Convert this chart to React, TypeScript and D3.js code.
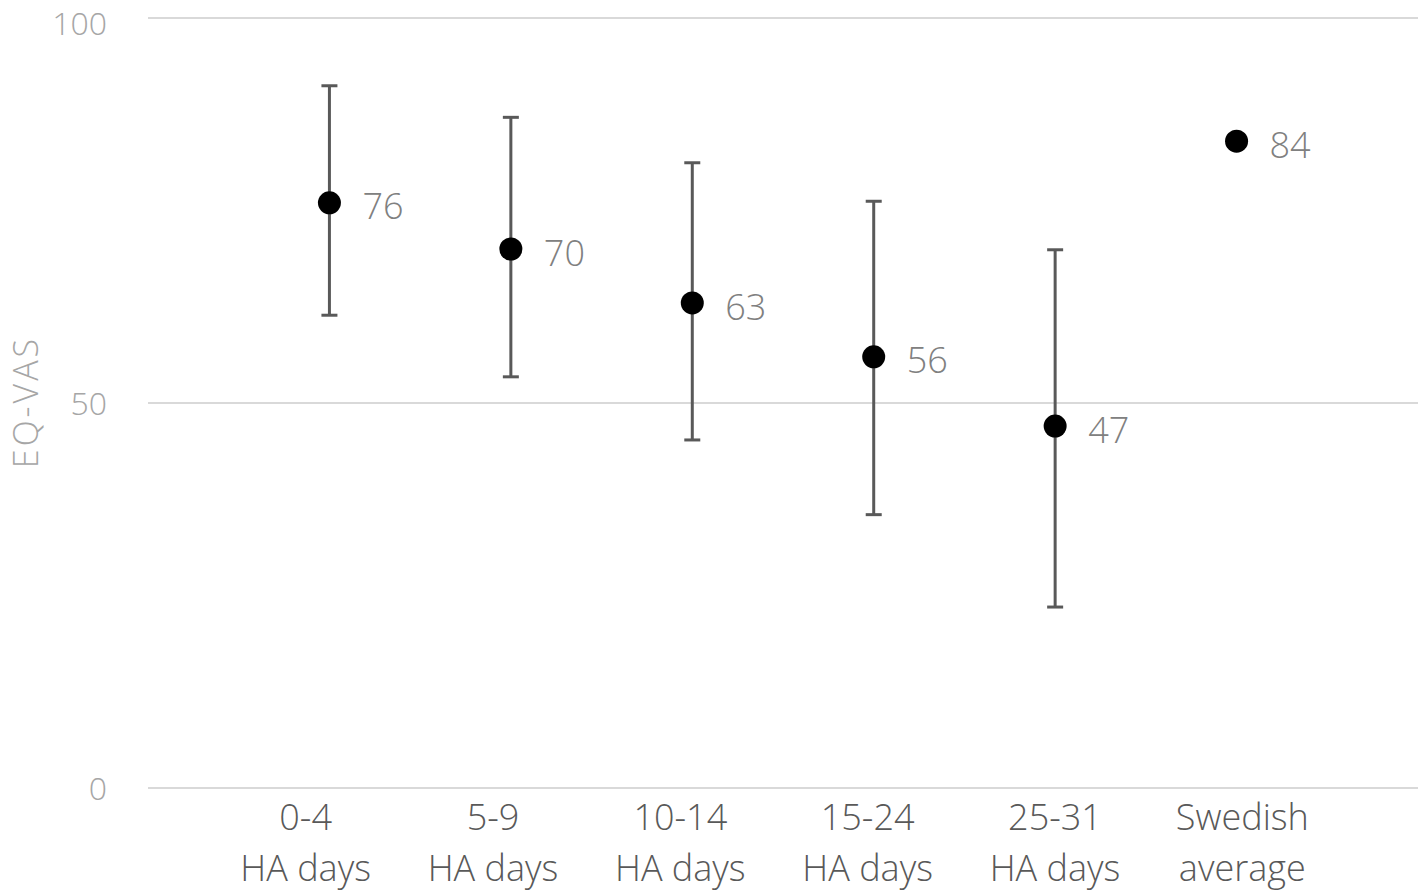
import React from "react";
import * as d3 from "d3";

const categories = ["0-4|HA days", "5-9|HA days", "10-14|HA days", "15-24|HA days", "25-31|HA days", "Swedish|average"];
const means = [76, 70, 63, 56, 47, 84];
const upper = [91.2, 87.1, 81.2, 76.2, 69.9, null as number | null];
const lower = [61.4, 53.4, 45.2, 35.5, 23.5, null as number | null];
const labels = ["76", "70", "63", "56", "47", "84"];
const yTicks = [0, 50, 100];

const W = 1418;
const H = 893;
const FONT = "'Open Sans', 'Noto Sans', sans-serif";

export default function App() {
  const x = d3.scaleLinear().domain([0, categories.length + 1]).range([148, 1418]);
  const y = d3.scaleLinear().domain([0, 100]).range([788, 18]);
  const xl = d3.scaleBand<string>().domain(categories).range([212, 1336]);

  return (
    <svg width={W} height={H} style={{ position: "absolute", left: 0, top: 0, background: "#fff" }}>
      {yTicks.map((t) => (
        <g key={t}>
          <line x1={148} x2={1418} y1={y(t)} y2={y(t)} stroke="#d9d9d9" strokeWidth={2} />
          <text
            x={107}
            y={Math.max(y(t) + 12, 35)}
            textAnchor="end"
            fontFamily={FONT}
            fontWeight={300}
            fontSize={32}
            fill="#a6a6a6"
          >
            {t}
          </text>
        </g>
      ))}
      <text
        transform={`translate(38,402) rotate(-90)`}
        textAnchor="middle"
        fontFamily={FONT}
        fontWeight={300}
        fontSize={34}
        letterSpacing={3}
        fill="#a6a6a6"
      >
        EQ-VAS
      </text>
      {categories.map((c, i) => {
        const cx = x(i + 1);
        const u = upper[i];
        const l = lower[i];
        return (
          <g key={c}>
            {u != null && l != null && (
              <g stroke="#595959" strokeWidth={3}>
                <line x1={cx} x2={cx} y1={y(u)} y2={y(l)} />
                <line x1={cx - 8} x2={cx + 8} y1={y(u)} y2={y(u)} />
                <line x1={cx - 8} x2={cx + 8} y1={y(l)} y2={y(l)} />
              </g>
            )}
            <circle cx={cx} cy={y(means[i])} r={11.5} fill="#000" />
            <text x={cx + 33} y={y(means[i]) + 4} dy="0.35em" fontFamily={FONT} fontWeight={300} fontSize={36} fill="#808080">
              {labels[i]}
            </text>
            {c.split("|").map((line, k) => (
              <text
                key={k}
                x={(xl(c) as number) + xl.bandwidth() / 2}
                y={830 + k * 51}
                textAnchor="middle"
                fontFamily={FONT}
                fontWeight={300}
                fontSize={36}
                fill="#595959"
              >
                {line}
              </text>
            ))}
          </g>
        );
      })}
    </svg>
  );
}
